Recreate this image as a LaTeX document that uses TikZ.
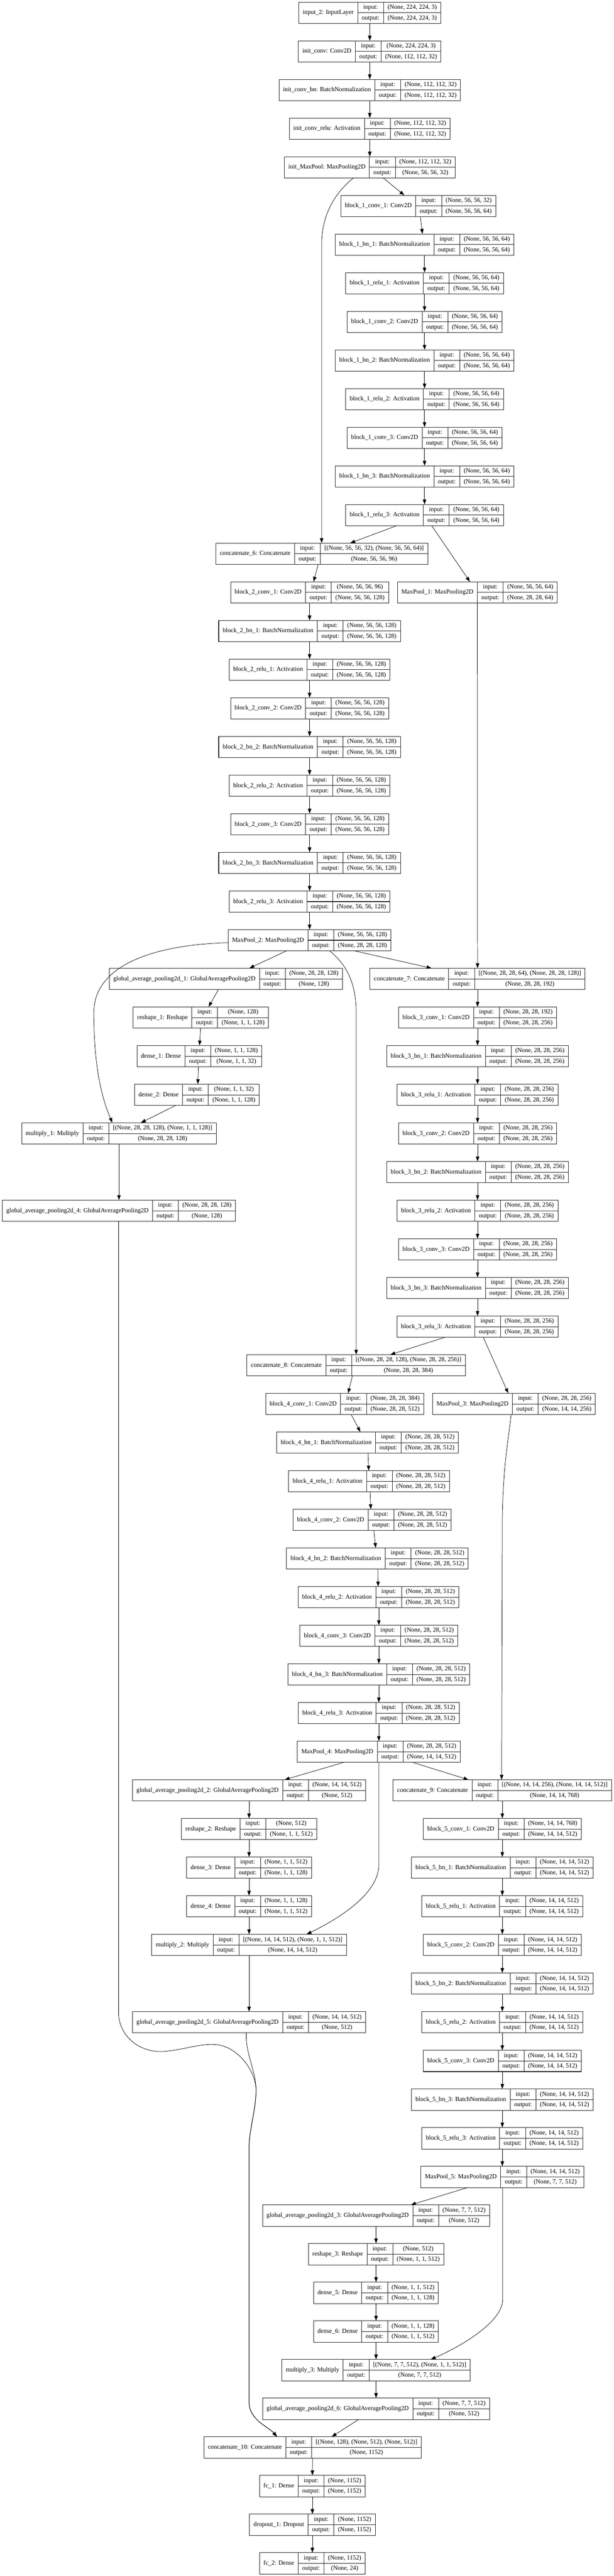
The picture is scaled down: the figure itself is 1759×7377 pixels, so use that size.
\documentclass[tikz,border=0pt]{standalone}
\usepackage{fontspec}
\setmainfont{Liberation Serif}
\usetikzlibrary{arrows.meta}
\makeatletter
\let\lstrip\strip@pt
\makeatother
\newdimen\lwa \newdimen\lwb \newdimen\lwc \newdimen\lwt
\newbox\lbox
\newcommand\lfont{\fontsize{18}{21}\selectfont}
\newcommand\lmeasure[2]{\pgfinterruptpicture\global\setbox\lbox=\hbox{\lfont #2}\global#1=\wd\lbox\endpgfinterruptpicture}
\tikzset{
  cell/.style={draw=black!85, line width=1.5pt},
  txt/.style={inner sep=0pt, font=\lfont, text height=12.5pt, text depth=3.5pt},
  edge/.style={draw=black, line width=1.1pt, -{Triangle[length=14pt,width=10pt]}},
}
% #1 id, #2 centre x, #3 row, #4 label, #5 input shape, #6 output shape
\newcommand\lay[6]{%
  \lmeasure\lwa{#4}\advance\lwa by 23pt
  \lmeasure\lwb{output:}\advance\lwb by 23pt
  \lmeasure\lwc{#5}\lmeasure\lwt{#6}%
  \ifdim\lwt>\lwc \lwc=\lwt\fi
  \advance\lwc by 23pt
  \edef\lwaN{\lstrip\lwa}\edef\lwbN{\lstrip\lwb}\edef\lwcN{\lstrip\lwc}%
  \pgfmathsetmacro\lW{\lwaN+\lwbN+\lwcN}%
  \pgfmathsetmacro\lL{#2-\lW/2}%
  \pgfmathsetmacro\lA{\lL+\lwaN}%
  \pgfmathsetmacro\lB{\lA+\lwbN}%
  \pgfmathsetmacro\lR{\lB+\lwcN}%
  \pgfmathsetmacro\lT{6+110.67*#3}%
  \pgfmathsetmacro\lM{\lT+30.5}%
  \pgfmathsetmacro\lD{\lT+61}%
  \node[inner sep=0pt, minimum width=\lW pt, minimum height=61pt, draw=none] (#1) at (#2,\lM) {};
  \draw[cell] (\lL,\lT) rectangle (\lR,\lD);
  \draw[cell] (\lA,\lT) -- (\lA,\lD) (\lB,\lT) -- (\lB,\lD) (\lA,\lM) -- (\lR,\lM);
  \node[txt] at ({(\lL+\lA)/2},\lM) {#4};
  \node[txt] at ({(\lA+\lB)/2},{\lT+15.25}) {input:};
  \node[txt] at ({(\lA+\lB)/2},{\lT+45.75}) {output:};
  \node[txt] at ({(\lB+\lR)/2},{\lT+15.25}) {#5};
  \node[txt] at ({(\lB+\lR)/2},{\lT+45.75}) {#6};
}
\begin{document}
\begin{tikzpicture}[x=1pt,y=-1pt]
\useasboundingbox (0,0) rectangle (1759,7377);
\fill[white] (0,0) rectangle (1759,7377);

% ---------------- stem
\lay{inp}{1060}{0}{input\_2: InputLayer}{(None, 224, 224, 3)}{(None, 224, 224, 3)}
\lay{iconv}{1060}{1}{init\_conv: Conv2D}{(None, 224, 224, 3)}{(None, 112, 112, 32)}
\lay{ibn}{1060}{2}{init\_conv\_bn: BatchNormalization}{(None, 112, 112, 32)}{(None, 112, 112, 32)}
\lay{irelu}{1060}{3}{init\_conv\_relu: Activation}{(None, 112, 112, 32)}{(None, 112, 112, 32)}
\lay{imp}{1060}{4}{init\_MaxPool: MaxPooling2D}{(None, 112, 112, 32)}{(None, 56, 56, 32)}
% ---------------- block 1
\lay{b1c1}{1199}{5}{block\_1\_conv\_1: Conv2D}{(None, 56, 56, 32)}{(None, 56, 56, 64)}
\lay{b1b1}{1217}{6}{block\_1\_bn\_1: BatchNormalization}{(None, 56, 56, 64)}{(None, 56, 56, 64)}
\lay{b1r1}{1217}{7}{block\_1\_relu\_1: Activation}{(None, 56, 56, 64)}{(None, 56, 56, 64)}
\lay{b1c2}{1217}{8}{block\_1\_conv\_2: Conv2D}{(None, 56, 56, 64)}{(None, 56, 56, 64)}
\lay{b1b2}{1217}{9}{block\_1\_bn\_2: BatchNormalization}{(None, 56, 56, 64)}{(None, 56, 56, 64)}
\lay{b1r2}{1217}{10}{block\_1\_relu\_2: Activation}{(None, 56, 56, 64)}{(None, 56, 56, 64)}
\lay{b1c3}{1217}{11}{block\_1\_conv\_3: Conv2D}{(None, 56, 56, 64)}{(None, 56, 56, 64)}
\lay{b1b3}{1217}{12}{block\_1\_bn\_3: BatchNormalization}{(None, 56, 56, 64)}{(None, 56, 56, 64)}
\lay{b1r3}{1217}{13}{block\_1\_relu\_3: Activation}{(None, 56, 56, 64)}{(None, 56, 56, 64)}
\lay{cat6}{922.5}{14}{concatenate\_6: Concatenate}{[(None, 56, 56, 32), (None, 56, 56, 64)]}{(None, 56, 56, 96)}
% ---------------- block 2
\lay{b2c1}{887.5}{15}{block\_2\_conv\_1: Conv2D}{(None, 56, 56, 96)}{(None, 56, 56, 128)}
\lay{mp1}{1368.5}{15}{MaxPool\_1: MaxPooling2D}{(None, 56, 56, 64)}{(None, 28, 28, 64)}
\lay{b2b1}{887.5}{16}{block\_2\_bn\_1: BatchNormalization}{(None, 56, 56, 128)}{(None, 56, 56, 128)}
\lay{b2r1}{887.5}{17}{block\_2\_relu\_1: Activation}{(None, 56, 56, 128)}{(None, 56, 56, 128)}
\lay{b2c2}{887.5}{18}{block\_2\_conv\_2: Conv2D}{(None, 56, 56, 128)}{(None, 56, 56, 128)}
\lay{b2b2}{887.5}{19}{block\_2\_bn\_2: BatchNormalization}{(None, 56, 56, 128)}{(None, 56, 56, 128)}
\lay{b2r2}{887.5}{20}{block\_2\_relu\_2: Activation}{(None, 56, 56, 128)}{(None, 56, 56, 128)}
\lay{b2c3}{887.5}{21}{block\_2\_conv\_3: Conv2D}{(None, 56, 56, 128)}{(None, 56, 56, 128)}
\lay{b2b3}{887.5}{22}{block\_2\_bn\_3: BatchNormalization}{(None, 56, 56, 128)}{(None, 56, 56, 128)}
\lay{b2r3}{887.5}{23}{block\_2\_relu\_3: Activation}{(None, 56, 56, 128)}{(None, 56, 56, 128)}
\lay{mp2}{887.5}{24}{MaxPool\_2: MaxPooling2D}{(None, 56, 56, 128)}{(None, 28, 28, 128)}
% ---------------- SE 1 and block 3
\lay{gap1}{647.5}{25}{global\_average\_pooling2d\_1: GlobalAveragePooling2D}{(None, 28, 28, 128)}{(None, 128)}
\lay{cat7}{1369}{25}{concatenate\_7: Concatenate}{[(None, 28, 28, 64), (None, 28, 28, 128)]}{(None, 28, 28, 192)}
\lay{rs1}{576}{26}{reshape\_1: Reshape}{(None, 128)}{(None, 1, 1, 128)}
\lay{b3c1}{1369}{26}{block\_3\_conv\_1: Conv2D}{(None, 28, 28, 192)}{(None, 28, 28, 256)}
\lay{d1}{571.5}{27}{dense\_1: Dense}{(None, 1, 1, 128)}{(None, 1, 1, 32)}
\lay{b3b1}{1369}{27}{block\_3\_bn\_1: BatchNormalization}{(None, 28, 28, 256)}{(None, 28, 28, 256)}
\lay{d2}{564.5}{28}{dense\_2: Dense}{(None, 1, 1, 32)}{(None, 1, 1, 128)}
\lay{b3r1}{1369}{28}{block\_3\_relu\_1: Activation}{(None, 28, 28, 256)}{(None, 28, 28, 256)}
\lay{mul1}{341}{29}{multiply\_1: Multiply}{[(None, 28, 28, 128), (None, 1, 1, 128)]}{(None, 28, 28, 128)}
\lay{b3c2}{1369}{29}{block\_3\_conv\_2: Conv2D}{(None, 28, 28, 256)}{(None, 28, 28, 256)}
\lay{b3b2}{1369}{30}{block\_3\_bn\_2: BatchNormalization}{(None, 28, 28, 256)}{(None, 28, 28, 256)}
\lay{gap4}{341}{31}{global\_average\_pooling2d\_4: GlobalAveragePooling2D}{(None, 28, 28, 128)}{(None, 128)}
\lay{b3r2}{1369}{31}{block\_3\_relu\_2: Activation}{(None, 28, 28, 256)}{(None, 28, 28, 256)}
\lay{b3c3}{1369}{32}{block\_3\_conv\_3: Conv2D}{(None, 28, 28, 256)}{(None, 28, 28, 256)}
\lay{b3b3}{1369}{33}{block\_3\_bn\_3: BatchNormalization}{(None, 28, 28, 256)}{(None, 28, 28, 256)}
\lay{b3r3}{1369}{34}{block\_3\_relu\_3: Activation}{(None, 28, 28, 256)}{(None, 28, 28, 256)}
\lay{cat8}{1021}{35}{concatenate\_8: Concatenate}{[(None, 28, 28, 128), (None, 28, 28, 256)]}{(None, 28, 28, 384)}
% ---------------- block 4
\lay{b4c1}{988}{36}{block\_4\_conv\_1: Conv2D}{(None, 28, 28, 384)}{(None, 28, 28, 512)}
\lay{mp3}{1473.5}{36}{MaxPool\_3: MaxPooling2D}{(None, 28, 28, 256)}{(None, 14, 14, 256)}
\lay{b4b1}{1054}{37}{block\_4\_bn\_1: BatchNormalization}{(None, 28, 28, 512)}{(None, 28, 28, 512)}
\lay{b4r1}{1058}{38}{block\_4\_relu\_1: Activation}{(None, 28, 28, 512)}{(None, 28, 28, 512)}
\lay{b4c2}{1067}{39}{block\_4\_conv\_2: Conv2D}{(None, 28, 28, 512)}{(None, 28, 28, 512)}
\lay{b4b2}{1082}{40}{block\_4\_bn\_2: BatchNormalization}{(None, 28, 28, 512)}{(None, 28, 28, 512)}
\lay{b4r2}{1085}{41}{block\_4\_relu\_2: Activation}{(None, 28, 28, 512)}{(None, 28, 28, 512)}
\lay{b4c3}{1086}{42}{block\_4\_conv\_3: Conv2D}{(None, 28, 28, 512)}{(None, 28, 28, 512)}
\lay{b4b3}{1086}{43}{block\_4\_bn\_3: BatchNormalization}{(None, 28, 28, 512)}{(None, 28, 28, 512)}
\lay{b4r3}{1086}{44}{block\_4\_relu\_3: Activation}{(None, 28, 28, 512)}{(None, 28, 28, 512)}
\lay{mp4}{1086}{45}{MaxPool\_4: MaxPooling2D}{(None, 28, 28, 512)}{(None, 14, 14, 512)}
% ---------------- SE 2 and block 5
\lay{gap2}{714}{46}{global\_average\_pooling2d\_2: GlobalAveragePooling2D}{(None, 14, 14, 512)}{(None, 512)}
\lay{cat9}{1440}{46}{concatenate\_9: Concatenate}{[(None, 14, 14, 256), (None, 14, 14, 512)]}{(None, 14, 14, 768)}
\lay{rs2}{714}{47}{reshape\_2: Reshape}{(None, 512)}{(None, 1, 1, 512)}
\lay{b5c1}{1440}{47}{block\_5\_conv\_1: Conv2D}{(None, 14, 14, 768)}{(None, 14, 14, 512)}
\lay{d3}{714}{48}{dense\_3: Dense}{(None, 1, 1, 512)}{(None, 1, 1, 128)}
\lay{b5b1}{1440}{48}{block\_5\_bn\_1: BatchNormalization}{(None, 14, 14, 512)}{(None, 14, 14, 512)}
\lay{d4}{714}{49}{dense\_4: Dense}{(None, 1, 1, 128)}{(None, 1, 1, 512)}
\lay{b5r1}{1440}{49}{block\_5\_relu\_1: Activation}{(None, 14, 14, 512)}{(None, 14, 14, 512)}
\lay{mul2}{714}{50}{multiply\_2: Multiply}{[(None, 14, 14, 512), (None, 1, 1, 512)]}{(None, 14, 14, 512)}
\lay{b5c2}{1440}{50}{block\_5\_conv\_2: Conv2D}{(None, 14, 14, 512)}{(None, 14, 14, 512)}
\lay{b5b2}{1440}{51}{block\_5\_bn\_2: BatchNormalization}{(None, 14, 14, 512)}{(None, 14, 14, 512)}
\lay{gap5}{714}{52}{global\_average\_pooling2d\_5: GlobalAveragePooling2D}{(None, 14, 14, 512)}{(None, 512)}
\lay{b5r2}{1440}{52}{block\_5\_relu\_2: Activation}{(None, 14, 14, 512)}{(None, 14, 14, 512)}
\lay{b5c3}{1440}{53}{block\_5\_conv\_3: Conv2D}{(None, 14, 14, 512)}{(None, 14, 14, 512)}
\lay{b5b3}{1440}{54}{block\_5\_bn\_3: BatchNormalization}{(None, 14, 14, 512)}{(None, 14, 14, 512)}
\lay{b5r3}{1440}{55}{block\_5\_relu\_3: Activation}{(None, 14, 14, 512)}{(None, 14, 14, 512)}
\lay{mp5}{1440}{56}{MaxPool\_5: MaxPooling2D}{(None, 14, 14, 512)}{(None, 7, 7, 512)}
% ---------------- SE 3 and head
\lay{gap3}{1078}{57}{global\_average\_pooling2d\_3: GlobalAveragePooling2D}{(None, 7, 7, 512)}{(None, 512)}
\lay{rs3}{1078}{58}{reshape\_3: Reshape}{(None, 512)}{(None, 1, 1, 512)}
\lay{d5}{1078}{59}{dense\_5: Dense}{(None, 1, 1, 512)}{(None, 1, 1, 128)}
\lay{d6}{1078}{60}{dense\_6: Dense}{(None, 1, 1, 128)}{(None, 1, 1, 512)}
\lay{mul3}{1078}{61}{multiply\_3: Multiply}{[(None, 7, 7, 512), (None, 1, 1, 512)]}{(None, 7, 7, 512)}
\lay{gap6}{1078}{62}{global\_average\_pooling2d\_6: GlobalAveragePooling2D}{(None, 7, 7, 512)}{(None, 512)}
\lay{cat10}{896}{63}{concatenate\_10: Concatenate}{[(None, 128), (None, 512), (None, 512)]}{(None, 1152)}
\lay{fc1}{895.5}{64}{fc\_1: Dense}{(None, 1152)}{(None, 1152)}
\lay{do1}{895.5}{65}{dropout\_1: Dropout}{(None, 1152)}{(None, 1152)}
\lay{fc2}{895.5}{66}{fc\_2: Dense}{(None, 1152)}{(None, 24)}

% ---------------- straight connectors
\foreach \a/\b in {inp/iconv, iconv/ibn, ibn/irelu, irelu/imp,
  b1b1/b1r1, b1r1/b1c2, b1c2/b1b2, b1b2/b1r2, b1r2/b1c3, b1c3/b1b3, b1b3/b1r3,
  b2c1/b2b1, b2b1/b2r1, b2r1/b2c2, b2c2/b2b2, b2b2/b2r2, b2r2/b2c3, b2c3/b2b3, b2b3/b2r3, b2r3/mp2,
  mp1/cat7, cat7/b3c1, b3c1/b3b1, b3b1/b3r1, b3r1/b3c2, b3c2/b3b2, b3b2/b3r2, b3r2/b3c3, b3c3/b3b3, b3b3/b3r3,
  mul1/gap4, b4c3/b4b3, b4b3/b4r3, b4r3/mp4,
  gap2/rs2, rs2/d3, d3/d4, d4/mul2, mul2/gap5,
  cat9/b5c1, b5c1/b5b1, b5b1/b5r1, b5r1/b5c2, b5c2/b5b2, b5b2/b5r2, b5r2/b5c3, b5c3/b5b3, b5b3/b5r3, b5r3/mp5,
  gap3/rs3, rs3/d5, d5/d6, d6/mul3, mul3/gap6,
  cat10/fc1, fc1/do1, do1/fc2}
  \draw[edge] (\a.south) -- (\b.north);

% ---------------- slanted connectors
\draw[edge] ([xshift=39pt]imp.south) -- ([xshift=-40pt]b1c1.north);
\draw[edge] ([xshift=6pt]b1c1.south) -- ([xshift=-6pt]b1b1.north);
\draw[edge] ([xshift=-81pt]b1r3.south) -- ([xshift=81.5pt]cat6.north);
\draw[edge] ([xshift=21pt]b1r3.south) -- ([xshift=-21.5pt]mp1.north);
\draw[edge] ([xshift=-10.5pt]cat6.south) -- ([xshift=11.5pt]b2c1.north);
\draw[edge] ([xshift=-67pt]mp2.south) -- ([xshift=67.5pt]gap1.north);
\draw[edge] ([xshift=130pt]mp2.south) -- ([xshift=-132pt]cat7.north);
\draw[edge] ([xshift=-21.5pt]gap1.south) -- ([xshift=22pt]rs1.north);
\draw[edge] ([xshift=-1pt]rs1.south) -- ([xshift=0.5pt]d1.north);
\draw[edge] ([xshift=-2.5pt]d1.south) -- ([xshift=2.5pt]d2.north);
\draw[edge] ([xshift=-61.5pt]d2.south) -- ([xshift=63pt]mul1.north);
\draw[edge] ([xshift=-94.5pt]b3r3.south) -- ([xshift=98pt]cat8.north);
\draw[edge] ([xshift=16.5pt]b3r3.south) -- ([xshift=-16.5pt]mp3.north);
\draw[edge] ([xshift=-11pt]cat8.south) -- ([xshift=10pt]b4c1.north);
\draw[edge] ([xshift=19pt]b4c1.south) -- ([xshift=-21pt]b4b1.north);
\draw[edge] ([xshift=1pt]b4b1.south) -- ([xshift=-1pt]b4r1.north);
\draw[edge] ([xshift=3pt]b4r1.south) -- ([xshift=-4pt]b4c2.north);
\draw[edge] ([xshift=5pt]b4c2.south) -- ([xshift=-5pt]b4b2.north);
\draw[edge] ([xshift=1pt]b4b2.south) -- ([xshift=-1pt]b4r2.north);
\draw[edge] ([xshift=1pt]b4r2.south) -- (b4c3.north);
\draw[edge] ([xshift=-102pt]mp4.south) -- ([xshift=102pt]gap2.north);
\draw[edge] ([xshift=98pt]mp4.south) -- ([xshift=-97pt]cat9.north);
\draw[edge] ([xshift=-100pt]mp5.south) -- ([xshift=100pt]gap3.north);
\draw[edge] ([xshift=-50pt]gap6.south) -- ([xshift=55pt]cat10.north);

% ---------------- curved connectors
\draw[edge] ([xshift=-47pt]imp.south) .. controls (975,540) and (922,600) .. (922,700) -- ([xshift=-0.5pt]cat6.north);
\draw[edge] ([yshift=-7pt]mp2.west) .. controls (450,2705) and (269,2760) .. (269,2900)
  .. controls (269,3050) and (290,3140) .. ([xshift=-19pt]mul1.north);
\draw[edge] ([xshift=58pt]mp2.south) .. controls (990,2760) and (1021,2810) .. (1021,2900) -- (cat8.north);
\draw[edge] ([xshift=-8.5pt]mp3.south) .. controls (1460,4110) and (1440,4200) .. (1440,4370) -- ([xshift=-2pt]cat9.north);
\draw[edge] (mp4.south) -- (1086,5340) .. controls (1086,5420) and (980,5490) .. ([xshift=165pt]mul2.north);
\draw[edge] ([xshift=1pt]mp5.south) -- (1441,6585) .. controls (1441,6650) and (1320,6720) .. ([xshift=157pt]mul3.north);

\coordinate (tA) at (734,5986);
\coordinate (tB) at (714,6150);
\coordinate (tC) at (714,6879);
\draw[edge] ([xshift=-1pt]gap4.south) -- (340,5760)
  .. controls (338,5830) and (400,5878) .. (466,5875)
  .. controls (520,5872) and (570,5852) .. (616,5855)
  .. controls (680,5858) and (734,5930) .. (tA)
  .. controls (734,6040) and (714,6100) .. (tB) -- (tC)
  .. controls (714,6930) and (770,6950) .. ([xshift=-102pt]cat10.north);
\draw[edge] ([xshift=-8pt]gap5.south) .. controls (703,5880) and (734,5930) .. (tA)
  .. controls (734,6040) and (714,6100) .. (tB) -- (tC)
  .. controls (714,6930) and (770,6950) .. ([xshift=-102pt]cat10.north);
\end{tikzpicture}
\end{document}
